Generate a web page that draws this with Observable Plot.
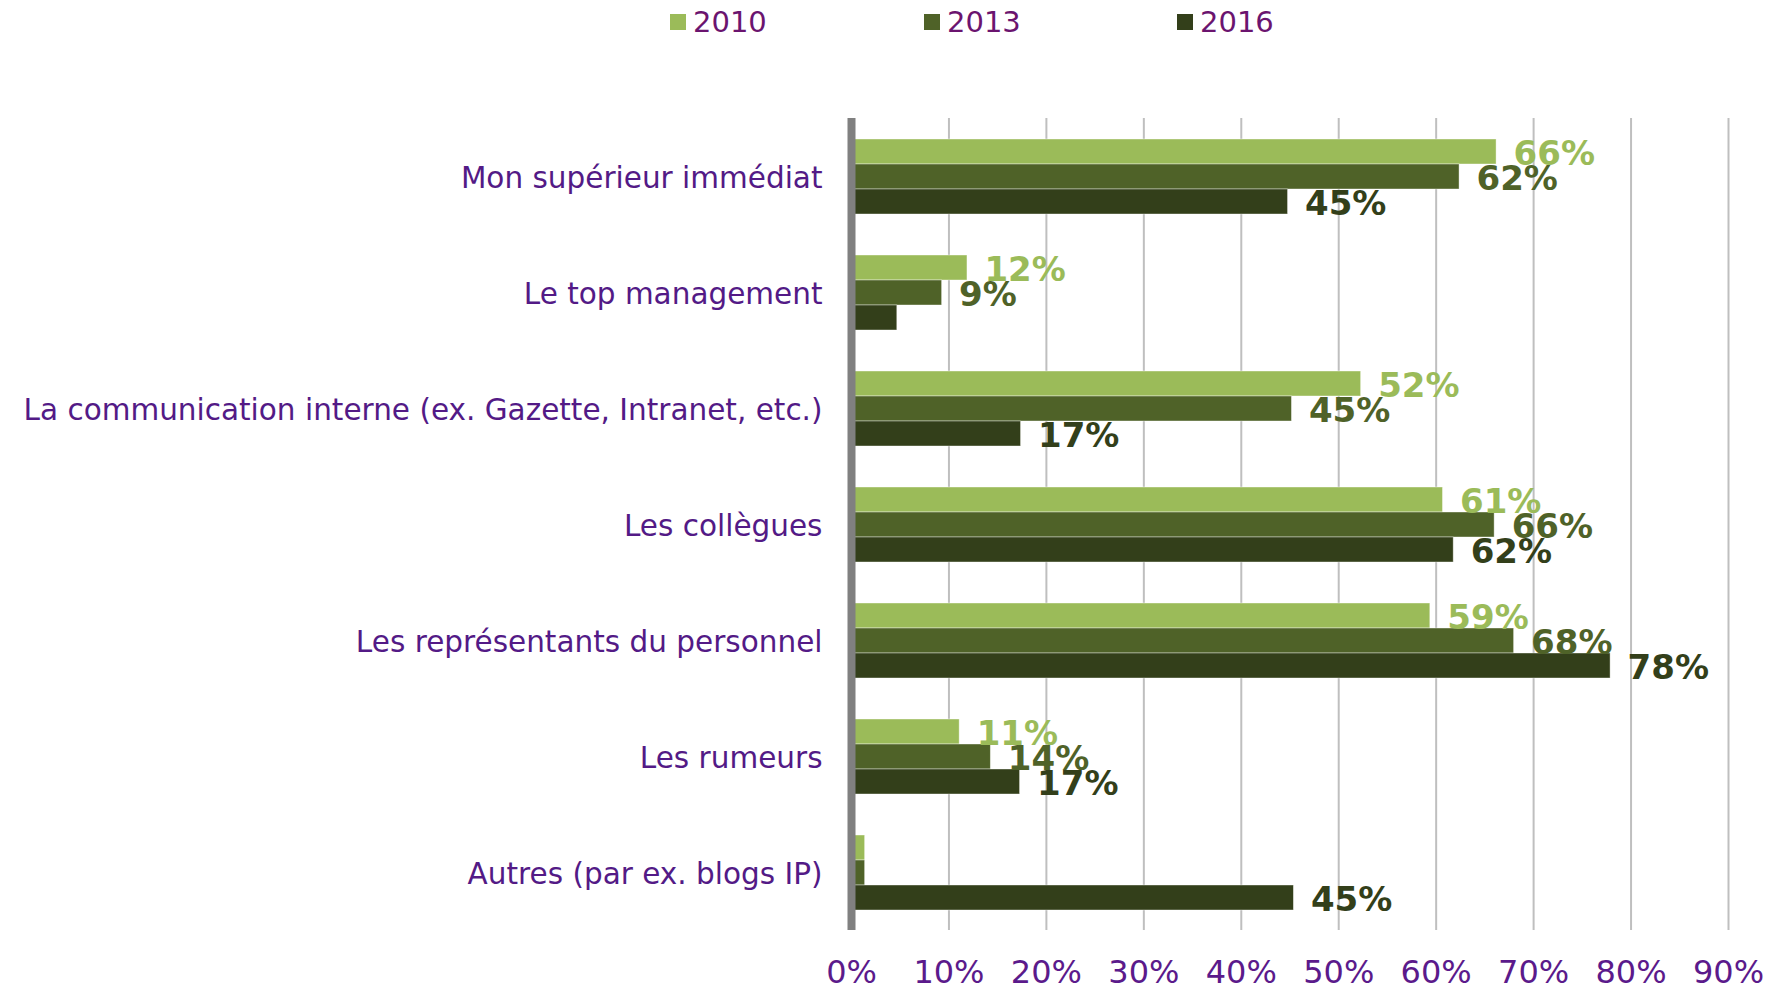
<!DOCTYPE html>
<html>
<head>
<meta charset="utf-8">
<script src="https://cdn.jsdelivr.net/npm/d3@7"></script>
<script src="https://cdn.jsdelivr.net/npm/@observablehq/plot@0.6"></script>
<style>
  html, body { margin: 0; padding: 0; background: #fff; }
  body { width: 1782px; height: 991px; overflow: hidden; font-family: "DejaVu Sans", Verdana, sans-serif; }
  #legend { position: relative; height: 60px; }
  .item { position: absolute; top: 6px; height: 32px; display: flex; align-items: center; }
  .sw { width: 16px; height: 16px; margin-right: 7px; }
  .lt { font-size: 29px; color: #6b146f; line-height: 32px; }
</style>
</head>
<body>
<div id="legend"></div>
<div id="chart"></div>
<script>
const categories = [
  "Mon supérieur immédiat",
  "Le top management",
  "La communication interne (ex. Gazette, Intranet, etc.)",
  "Les collègues",
  "Les représentants du personnel",
  "Les rumeurs",
  "Autres (par ex. blogs IP)"
];
const years = ["2010", "2013", "2016"];
const v2010 = [66.2, 11.9, 52.3, 60.7, 59.4, 11.1, 1.4];
const v2013 = [62.4, 9.3, 45.2, 66.0, 68.0, 14.3, 1.4];
const v2016 = [44.8, 4.7, 17.4, 61.8, 77.9, 17.3, 45.4];
const lab2010 = ["66%", "12%", "52%", "61%", "59%", "11%", ""];
const lab2013 = ["62%", "9%", "45%", "66%", "68%", "14%", ""];
const lab2016 = ["45%", "", "17%", "62%", "78%", "17%", "45%"];
const colors = ["#9BBB59", "#4F6228", "#333F1A"];
const xTicks = [0, 10, 20, 30, 40, 50, 60, 70, 80, 90];

const series = [[v2010, lab2010], [v2013, lab2013], [v2016, lab2016]];
const rows = [];
categories.forEach((c, i) => {
  years.forEach((y, j) => {
    rows.push({category: c, year: y, value: series[j][0][i], label: series[j][1][i]});
  });
});

// legend
const legend = document.getElementById("legend");
const legendLeft = [670, 924, 1177];
years.forEach((y, j) => {
  const it = document.createElement("div");
  it.className = "item";
  it.style.left = legendLeft[j] + "px";
  it.innerHTML = `<div class="sw" style="background:${colors[j]}"></div><span class="lt">${y}</span>`;
  legend.appendChild(it);
});

const chart = Plot.plot({
  width: 1782,
  height: 931,
  marginTop: 58,
  marginBottom: 61,
  marginLeft: 851,
  marginRight: 54,
  style: {fontFamily: "DejaVu Sans, Verdana, sans-serif", background: "#fff"},
  x: {domain: [0, 90], axis: null},
  y: {domain: years, axis: null, paddingInner: 0, paddingOuter: 0.74},
  fy: {domain: categories, padding: 0, axis: null},
  color: {domain: years, range: colors},
  marks: [
    Plot.gridX({ticks: xTicks, stroke: "#BFBFBF", strokeWidth: 2, strokeOpacity: 1}),
    Plot.barX(rows, {fy: "category", y: "year", x: "value", fill: "year", stroke: "#ffffff", strokeWidth: 0.8, strokeOpacity: 0.5}),
    Plot.text(rows, {fy: "category", y: "year", x: "value", text: "label", fill: "year",
      textAnchor: "start", dx: 17, dy: 2, fontSize: 34, fontWeight: "bold"}),
    Plot.ruleX([0], {stroke: "#808080", strokeWidth: 8}),
    Plot.axisX({ticks: xTicks, tickFormat: d => d + "%", tickSize: 0, tickPadding: 30,
      fontSize: 32, color: "#5B1A8B", label: null}),
    Plot.axisFy({tickSize: 0, tickPadding: 29, fontSize: 29.5, dy: 2, color: "#531A86", label: null, anchor: "left"})
  ]
});
document.getElementById("chart").appendChild(chart);
</script>
</body>
</html>
